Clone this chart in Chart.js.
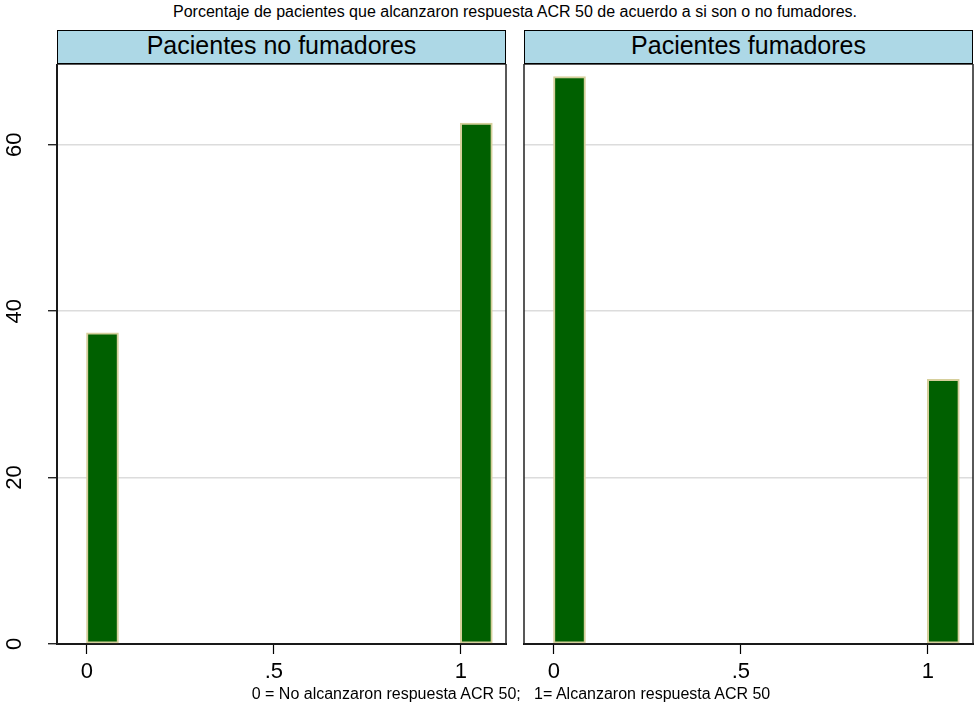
<!DOCTYPE html>
<html>
<head>
<meta charset="utf-8">
<script src="https://cdn.jsdelivr.net/npm/chart.js@4/dist/chart.umd.min.js"></script>
<style>
  body { margin: 0; background: #fff; font-family: "Liberation Sans", Arial, sans-serif; }
  #page { position: relative; width: 974px; height: 706px; overflow: hidden; }
  .titulo { position: absolute; left: 0; width: 1030px; top: 3px; text-align: center; font-size: 16px; color: #000; white-space: nowrap; }
  .cabecera { position: absolute; top: 30px; height: 34px; box-sizing: border-box; border: 1px solid #000;
              background: #add8e6; text-align: center; font-size: 25px; line-height: 28px; color: #000; }
  .nota { position: absolute; left: 0; width: 1022px; top: 685px; text-align: center; font-size: 16px; color: #000; white-space: nowrap; }
  .panel { position: absolute; top: 64px; height: 642px; }
</style>
</head>
<body>
<div id="page">
  <div class="titulo">Porcentaje de pacientes que alcanzaron respuesta ACR 50 de acuerdo a si son o no fumadores.</div>
  <div class="cabecera" style="left:57px; width:449px;">Pacientes no fumadores</div>
  <div class="cabecera" style="left:524px; width:449px;">Pacientes fumadores</div>
  <div class="panel" style="left:0; width:512px;"><canvas id="chart-no-fumadores"></canvas></div>
  <div class="panel" style="left:512px; width:462px;"><canvas id="chart-fumadores"></canvas></div>
  <div class="nota">0 = No alcanzaron respuesta ACR 50;&nbsp;&nbsp; 1= Alcanzaron respuesta ACR 50</div>
</div>
<script>
// ---- datos ----
const binStarts = [0, 1];          // inicio de cada barra (ACR 50: 0 / 1)
const binWidth = 1 / 12;
const noFumadores = [37.4, 62.6];  // % pacientes
const fumadores = [68.2, 31.8];
const xTicks = [0, 0.5, 1];
const xTickLabels = ['0', '.5', '1'];
const yTicks = [0, 20, 40, 60];
const xMin = -0.08, xMax = 1.121;
const yMax = 69.7;

const FONT = '"Liberation Sans", Arial, sans-serif';

// marco del área de gráfico
const framePlugin = {
  id: 'frame',
  afterDraw(chart) {
    const a = chart.chartArea, ctx = chart.ctx;
    ctx.save();
    ctx.strokeStyle = '#222';
    ctx.lineWidth = 1.5;
    ctx.strokeRect(a.left, a.top, a.right - a.left, a.bottom - a.top);
    ctx.restore();
  }
};

// etiquetas del eje y giradas (estilo Stata)
const yLabelsPlugin = {
  id: 'yLabels',
  afterDraw(chart) {
    const y = chart.scales.y, ctx = chart.ctx;
    ctx.save();
    ctx.font = '22px ' + FONT;
    ctx.fillStyle = '#000';
    ctx.textAlign = 'center';
    ctx.textBaseline = 'alphabetic';
    yTicks.forEach(v => {
      ctx.save();
      ctx.translate(21, y.getPixelForValue(v));
      ctx.rotate(-Math.PI / 2);
      ctx.fillText(String(v), 0, 0);
      ctx.restore();
    });
    ctx.restore();
  }
};

function makePanel(id, values, showY, pad) {
  const ctx = document.getElementById(id);
  return new Chart(ctx, {
    type: 'bar',
    data: {
      datasets: [{
        data: binStarts.map((s, i) => ({ x: s + binWidth / 2, y: values[i] })),
        backgroundColor: '#006000',
        borderColor: '#d6cf9c',
        borderWidth: 2,
        borderSkipped: false,
        barThickness: 32,
      }]
    },
    options: {
      responsive: true,
      maintainAspectRatio: false,
      animation: false,
      layout: { padding: pad },
      plugins: { legend: { display: false }, tooltip: { enabled: false } },
      scales: {
        x: {
          type: 'linear',
          min: xMin,
          max: xMax,
          offset: false,
          afterBuildTicks: s => { s.ticks = xTicks.map(v => ({ value: v })); },
          afterFit: s => { s.height = 62; },
          grid: { offset: false, drawOnChartArea: false, drawTicks: true, tickLength: 10, tickColor: '#000', tickWidth: 1.2 },
          border: { color: '#000', width: 2 },
          ticks: {
            padding: 5,
            color: '#000',
            font: { family: FONT, size: 22 },
            maxRotation: 0,
            callback: (v, i) => xTickLabels[i],
          }
        },
        y: {
          min: 0,
          max: yMax,
          afterBuildTicks: s => { s.ticks = yTicks.map(v => ({ value: v })); },
          afterFit: s => { s.width = showY ? 57 : 0; },
          grid: {
            color: c => c.tick && c.tick.value === 0 ? 'rgba(0,0,0,0)' : '#dcdcdc',
            lineWidth: 1.5,
            drawTicks: showY,
            tickLength: 9,
            tickColor: '#000',
            tickWidth: 1.2,
          },
          border: { display: showY, color: '#000', width: 2 },
          ticks: { display: false },
        }
      }
    },
    plugins: showY ? [framePlugin, yLabelsPlugin] : [framePlugin]
  });
}

makePanel('chart-no-fumadores', noFumadores, true, { top: 0, right: 6, bottom: 0, left: 0 });
makePanel('chart-fumadores', fumadores, false, { top: 0, right: 1, bottom: 0, left: 12 });
</script>
</body>
</html>
